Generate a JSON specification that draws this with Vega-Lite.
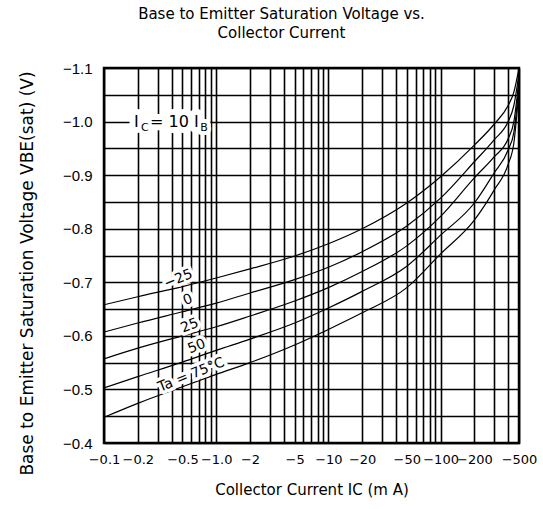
{
  "$schema": "https://vega.github.io/schema/vega-lite/v6.json",
  "width": 415,
  "height": 375,
  "autosize": {"type": "none"},
  "padding": {"left": 104, "top": 68, "right": 24, "bottom": 66},
  "background": "white",
  "title": {
    "text": ["Base to Emitter Saturation Voltage vs.", "Collector Current"],
    "fontSize": 15, "fontWeight": "normal", "font": "DejaVu Sans", "color": "black",
    "anchor": "middle", "frame": "group", "offset": 20, "dx": -30, "lineHeight": 19
  },
  "config": {
    "view": {"stroke": "black", "strokeWidth": 2.5},
    "axis": {
      "grid": true, "gridColor": "black", "gridWidth": 1.6, "gridOpacity": 1,
      "ticks": false, "domain": false,
      "labelColor": "black", "labelFont": "Liberation Sans", "labelOverlap": false, "labelFlush": false,
      "titleFont": "DejaVu Sans", "titleFontWeight": "normal", "titleColor": "black"
    }
  },
  "datasets": {
    "curves": [
      {"Ta": -25, "I": 0.1, "V": -0.658}, {"Ta": -25, "I": 0.2, "V": -0.673}, {"Ta": -25, "I": 0.5, "V": -0.692},
      {"Ta": -25, "I": 1, "V": -0.708}, {"Ta": -25, "I": 2, "V": -0.725}, {"Ta": -25, "I": 5, "V": -0.749},
      {"Ta": -25, "I": 10, "V": -0.772}, {"Ta": -25, "I": 20, "V": -0.8}, {"Ta": -25, "I": 50, "V": -0.848},
      {"Ta": -25, "I": 100, "V": -0.897}, {"Ta": -25, "I": 200, "V": -0.956}, {"Ta": -25, "I": 300, "V": -0.995},
      {"Ta": -25, "I": 400, "V": -1.03}, {"Ta": -25, "I": 450, "V": -1.055}, {"Ta": -25, "I": 500, "V": -1.1},
      {"Ta": 0, "I": 0.1, "V": -0.607}, {"Ta": 0, "I": 0.2, "V": -0.624}, {"Ta": 0, "I": 0.5, "V": -0.645},
      {"Ta": 0, "I": 1, "V": -0.661}, {"Ta": 0, "I": 2, "V": -0.68}, {"Ta": 0, "I": 5, "V": -0.705},
      {"Ta": 0, "I": 10, "V": -0.728}, {"Ta": 0, "I": 20, "V": -0.757}, {"Ta": 0, "I": 50, "V": -0.805},
      {"Ta": 0, "I": 100, "V": -0.857}, {"Ta": 0, "I": 200, "V": -0.925}, {"Ta": 0, "I": 300, "V": -0.966},
      {"Ta": 0, "I": 400, "V": -1.0}, {"Ta": 0, "I": 450, "V": -1.03}, {"Ta": 0, "I": 500, "V": -1.09},
      {"Ta": 25, "I": 0.1, "V": -0.557}, {"Ta": 25, "I": 0.2, "V": -0.577}, {"Ta": 25, "I": 0.5, "V": -0.6},
      {"Ta": 25, "I": 1, "V": -0.617}, {"Ta": 25, "I": 2, "V": -0.637}, {"Ta": 25, "I": 5, "V": -0.665},
      {"Ta": 25, "I": 10, "V": -0.69}, {"Ta": 25, "I": 20, "V": -0.72}, {"Ta": 25, "I": 50, "V": -0.768},
      {"Ta": 25, "I": 100, "V": -0.823}, {"Ta": 25, "I": 200, "V": -0.895}, {"Ta": 25, "I": 300, "V": -0.934},
      {"Ta": 25, "I": 400, "V": -0.968}, {"Ta": 25, "I": 450, "V": -1.0}, {"Ta": 25, "I": 500, "V": -1.08},
      {"Ta": 50, "I": 0.1, "V": -0.503}, {"Ta": 50, "I": 0.2, "V": -0.524}, {"Ta": 50, "I": 0.5, "V": -0.551},
      {"Ta": 50, "I": 1, "V": -0.573}, {"Ta": 50, "I": 2, "V": -0.594}, {"Ta": 50, "I": 5, "V": -0.624},
      {"Ta": 50, "I": 10, "V": -0.652}, {"Ta": 50, "I": 20, "V": -0.683}, {"Ta": 50, "I": 50, "V": -0.73},
      {"Ta": 50, "I": 100, "V": -0.788}, {"Ta": 50, "I": 200, "V": -0.848}, {"Ta": 50, "I": 300, "V": -0.904},
      {"Ta": 50, "I": 400, "V": -0.947}, {"Ta": 50, "I": 450, "V": -0.98}, {"Ta": 50, "I": 500, "V": -1.07},
      {"Ta": 75, "I": 0.1, "V": -0.448}, {"Ta": 75, "I": 0.2, "V": -0.474}, {"Ta": 75, "I": 0.5, "V": -0.505},
      {"Ta": 75, "I": 1, "V": -0.528}, {"Ta": 75, "I": 2, "V": -0.55}, {"Ta": 75, "I": 5, "V": -0.583},
      {"Ta": 75, "I": 10, "V": -0.612}, {"Ta": 75, "I": 20, "V": -0.643}, {"Ta": 75, "I": 50, "V": -0.69},
      {"Ta": 75, "I": 100, "V": -0.753}, {"Ta": 75, "I": 200, "V": -0.816}, {"Ta": 75, "I": 300, "V": -0.872},
      {"Ta": 75, "I": 400, "V": -0.92}, {"Ta": 75, "I": 450, "V": -0.96}, {"Ta": 75, "I": 500, "V": -1.06}
    ],
    "labels": [
      {"t": "−25", "I": 0.46, "V": -0.706},
      {"t": "0", "I": 0.56, "V": -0.667},
      {"t": "25", "I": 0.58, "V": -0.619},
      {"t": "50", "I": 0.67, "V": -0.58},
      {"t": "Ta = 75°C", "I": 0.6, "V": -0.527}
    ],
    "anno": [
      {"t": "I", "I": 0.185, "V": -1.0},
      {"t": "= 10 I", "I": 0.257, "V": -1.0}
    ],
    "annosub": [
      {"t": "C", "I": 0.214, "V": -0.988},
      {"t": "B", "I": 0.72, "V": -0.988}
    ]
  },
  "encoding": {
    "x": {
      "field": "I", "type": "quantitative",
      "scale": {"type": "log", "domain": [0.1, 500], "nice": false},
      "axis": {
        "values": [0.1, 0.2, 0.3, 0.4, 0.5, 0.6, 0.7, 0.8, 0.9, 1, 2, 3, 4, 5, 6, 7, 8, 9, 10, 20, 30, 40, 50, 60, 70, 80, 90, 100, 200, 300, 400, 500],
        "labelExpr": "indexof([0.1, 0.2, 0.5, 1, 2, 5, 10, 20, 50, 100, 200, 500], datum.value) >= 0 ? (datum.value == 1 ? '−1.0' : '−' + format(datum.value, '~g')) : ''",
        "labelFont": "DejaVu Sans", "labelFontSize": 13, "labelPadding": 10,
        "title": "Collector Current  IC  (m A)", "titleFontSize": 15, "titlePadding": 16
      }
    },
    "y": {
      "field": "V", "type": "quantitative",
      "scale": {"domain": [-1.1, -0.4], "reverse": true, "nice": false, "zero": false},
      "axis": {
        "values": [-1.1, -1.05, -1.0, -0.95, -0.9, -0.85, -0.8, -0.75, -0.7, -0.65, -0.6, -0.55, -0.5, -0.45, -0.4],
        "labelExpr": "abs(round(datum.value * 100)) % 10 == 0 ? format(datum.value, '.1f') : ''",
        "labelFontSize": 15, "labelPadding": 12,
        "title": "Base to Emitter Saturation Voltage  VBE(sat)  (V)", "titleFontSize": 17, "titlePadding": 26, "titleY": 205
      }
    }
  },
  "layer": [
    {
      "data": {"name": "curves"},
      "mark": {"type": "line", "color": "black", "strokeWidth": 1.2, "interpolate": "monotone", "clip": true},
      "encoding": {"detail": {"field": "Ta", "type": "nominal"}}
    },
    {
      "data": {"name": "labels"},
      "mark": {"type": "text", "font": "DejaVu Sans", "fontSize": 14, "angle": 338, "stroke": "white", "strokeWidth": 7, "fill": "white", "strokeJoin": "round"},
      "encoding": {"text": {"field": "t"}}
    },
    {
      "data": {"name": "labels"},
      "mark": {"type": "text", "font": "DejaVu Sans", "fontSize": 14, "angle": 338, "color": "black"},
      "encoding": {"text": {"field": "t"}}
    },
    {
      "data": {"name": "anno"},
      "mark": {"type": "text", "font": "DejaVu Sans", "fontSize": 16, "align": "left", "stroke": "white", "strokeWidth": 12, "fill": "white", "strokeJoin": "round"},
      "encoding": {"text": {"field": "t"}}
    },
    {
      "data": {"name": "annosub"},
      "mark": {"type": "text", "font": "DejaVu Sans", "fontSize": 11, "align": "left", "stroke": "white", "strokeWidth": 8, "fill": "white", "strokeJoin": "round"},
      "encoding": {"text": {"field": "t"}}
    },
    {
      "data": {"name": "anno"},
      "mark": {"type": "text", "font": "DejaVu Sans", "fontSize": 16, "align": "left", "color": "black"},
      "encoding": {"text": {"field": "t"}}
    },
    {
      "data": {"name": "annosub"},
      "mark": {"type": "text", "font": "DejaVu Sans", "fontSize": 11, "align": "left", "color": "black"},
      "encoding": {"text": {"field": "t"}}
    }
  ]
}
